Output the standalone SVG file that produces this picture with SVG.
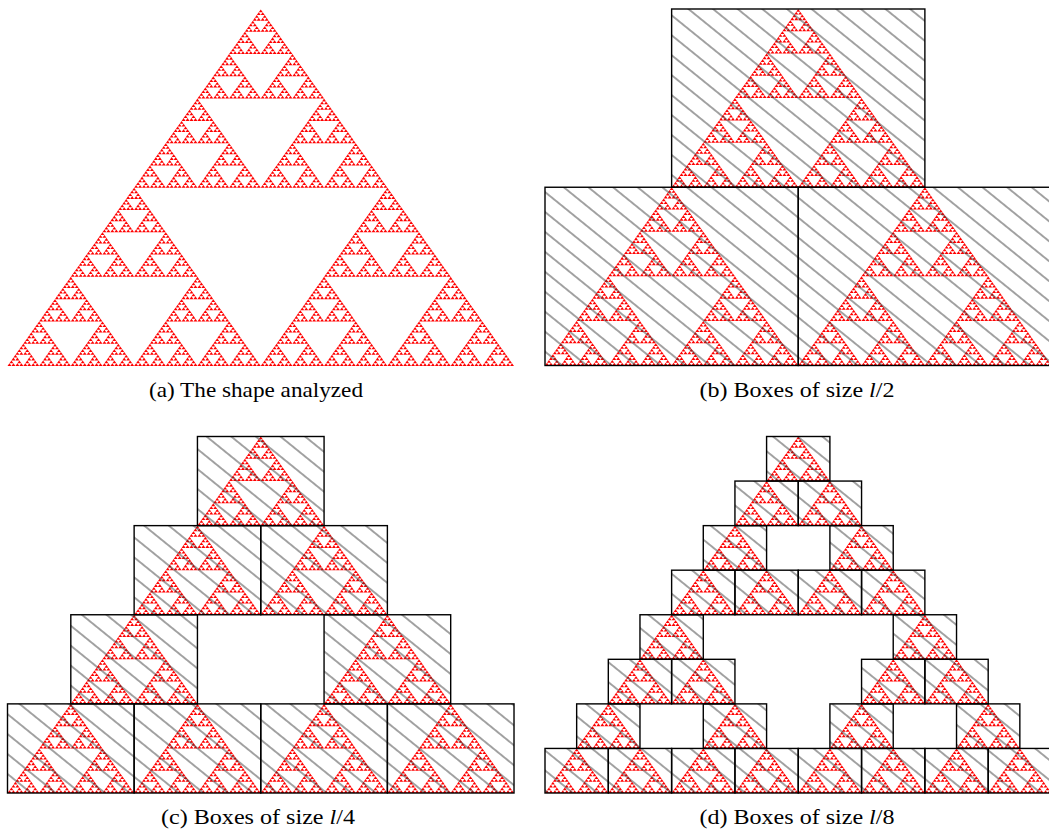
<svg xmlns="http://www.w3.org/2000/svg" xmlns:xlink="http://www.w3.org/1999/xlink" width="1049" height="835" viewBox="0 0 1049 835">
<style>
.tri{fill:#ff0000}
.box{fill:url(#hatch);stroke:#000;stroke-width:1.4}
.cap{font-family:"Liberation Serif",serif;font-size:21px;fill:#000;text-anchor:middle}
</style>
<defs>
<pattern id="hatch" patternUnits="userSpaceOnUse" width="15.5" height="15.5" patternTransform="rotate(39)">
<rect width="15.5" height="15.5" fill="none"/>
<line x1="-1" y1="7.75" x2="16.5" y2="7.75" stroke="#333" stroke-width="0.9"/>
</pattern>
<polygon id="t0" points="0,1 0.5,0 1,1"/>
<g id="t1"><use xlink:href="#t0" x="0.5" y="0"/><use xlink:href="#t0" x="0" y="1"/><use xlink:href="#t0" x="1" y="1"/></g>
<g id="t2"><use xlink:href="#t1" x="1" y="0"/><use xlink:href="#t1" x="0" y="2"/><use xlink:href="#t1" x="2" y="2"/></g>
<g id="t3"><use xlink:href="#t2" x="2" y="0"/><use xlink:href="#t2" x="0" y="4"/><use xlink:href="#t2" x="4" y="4"/></g>
<g id="t4"><use xlink:href="#t3" x="4" y="0"/><use xlink:href="#t3" x="0" y="8"/><use xlink:href="#t3" x="8" y="8"/></g>
<g id="t5"><use xlink:href="#t4" x="8" y="0"/><use xlink:href="#t4" x="0" y="16"/><use xlink:href="#t4" x="16" y="16"/></g>
<g id="t6"><use xlink:href="#t5" x="16" y="0"/><use xlink:href="#t5" x="0" y="32"/><use xlink:href="#t5" x="32" y="32"/></g>
<g id="t7"><use xlink:href="#t6" x="32" y="0"/><use xlink:href="#t6" x="0" y="64"/><use xlink:href="#t6" x="64" y="64"/></g>
</defs>
<rect width="1049" height="835" fill="#fff"/>

<g id="panel-a">
<use xlink:href="#t7" class="tri" transform="translate(7.5,9.5) scale(3.957,2.785)"/>
<text class="cap" x="256" y="397" textLength="214" lengthAdjust="spacingAndGlyphs">(a) The shape analyzed</text>
</g>

<g id="panel-b">
<use xlink:href="#t7" class="tri" transform="translate(545,9) scale(3.957,2.785)"/>
<g id="boxes-b">
<rect class="box" x="671.63" y="9" width="253.25" height="178.25"/>
<rect class="box" x="545" y="187.25" width="253.25" height="178.25"/>
<rect class="box" x="798.25" y="187.25" width="253.25" height="178.25"/>
</g>
<text class="cap" x="797" y="397" textLength="195" lengthAdjust="spacingAndGlyphs">(b) Boxes of size <tspan font-style="italic">l</tspan>/2</text>
</g>

<g id="panel-c">
<use xlink:href="#t7" class="tri" transform="translate(7.5,436.5) scale(3.957,2.785)"/>
<g id="boxes-c">
<rect class="box" x="197.44" y="436.5" width="126.63" height="89.13"/>
<rect class="box" x="134.13" y="525.63" width="126.63" height="89.13"/>
<rect class="box" x="260.75" y="525.63" width="126.63" height="89.13"/>
<rect class="box" x="70.81" y="614.75" width="126.63" height="89.13"/>
<rect class="box" x="324.06" y="614.75" width="126.63" height="89.13"/>
<rect class="box" x="7.5" y="703.88" width="126.63" height="89.13"/>
<rect class="box" x="134.13" y="703.88" width="126.63" height="89.13"/>
<rect class="box" x="260.75" y="703.88" width="126.63" height="89.13"/>
<rect class="box" x="387.38" y="703.88" width="126.63" height="89.13"/>
</g>
<text class="cap" x="258" y="824" textLength="194" lengthAdjust="spacingAndGlyphs">(c) Boxes of size <tspan font-style="italic">l</tspan>/4</text>
</g>

<g id="panel-d">
<use xlink:href="#t7" class="tri" transform="translate(545,436.5) scale(3.957,2.785)"/>
<g id="boxes-d">
<rect class="box" x="766.59" y="436.5" width="63.31" height="44.56"/>
<rect class="box" x="734.94" y="481.06" width="63.31" height="44.56"/>
<rect class="box" x="798.25" y="481.06" width="63.31" height="44.56"/>
<rect class="box" x="703.28" y="525.63" width="63.31" height="44.56"/>
<rect class="box" x="829.91" y="525.63" width="63.31" height="44.56"/>
<rect class="box" x="671.63" y="570.19" width="63.31" height="44.56"/>
<rect class="box" x="734.94" y="570.19" width="63.31" height="44.56"/>
<rect class="box" x="798.25" y="570.19" width="63.31" height="44.56"/>
<rect class="box" x="861.56" y="570.19" width="63.31" height="44.56"/>
<rect class="box" x="639.97" y="614.75" width="63.31" height="44.56"/>
<rect class="box" x="893.22" y="614.75" width="63.31" height="44.56"/>
<rect class="box" x="608.31" y="659.31" width="63.31" height="44.56"/>
<rect class="box" x="671.63" y="659.31" width="63.31" height="44.56"/>
<rect class="box" x="861.56" y="659.31" width="63.31" height="44.56"/>
<rect class="box" x="924.88" y="659.31" width="63.31" height="44.56"/>
<rect class="box" x="576.66" y="703.88" width="63.31" height="44.56"/>
<rect class="box" x="703.28" y="703.88" width="63.31" height="44.56"/>
<rect class="box" x="829.91" y="703.88" width="63.31" height="44.56"/>
<rect class="box" x="956.53" y="703.88" width="63.31" height="44.56"/>
<rect class="box" x="545" y="748.44" width="63.31" height="44.56"/>
<rect class="box" x="608.31" y="748.44" width="63.31" height="44.56"/>
<rect class="box" x="671.63" y="748.44" width="63.31" height="44.56"/>
<rect class="box" x="734.94" y="748.44" width="63.31" height="44.56"/>
<rect class="box" x="798.25" y="748.44" width="63.31" height="44.56"/>
<rect class="box" x="861.56" y="748.44" width="63.31" height="44.56"/>
<rect class="box" x="924.88" y="748.44" width="63.31" height="44.56"/>
<rect class="box" x="988.19" y="748.44" width="63.31" height="44.56"/>
</g>
<text class="cap" x="797" y="824" textLength="195" lengthAdjust="spacingAndGlyphs">(d) Boxes of size <tspan font-style="italic">l</tspan>/8</text>
</g>
</svg>
